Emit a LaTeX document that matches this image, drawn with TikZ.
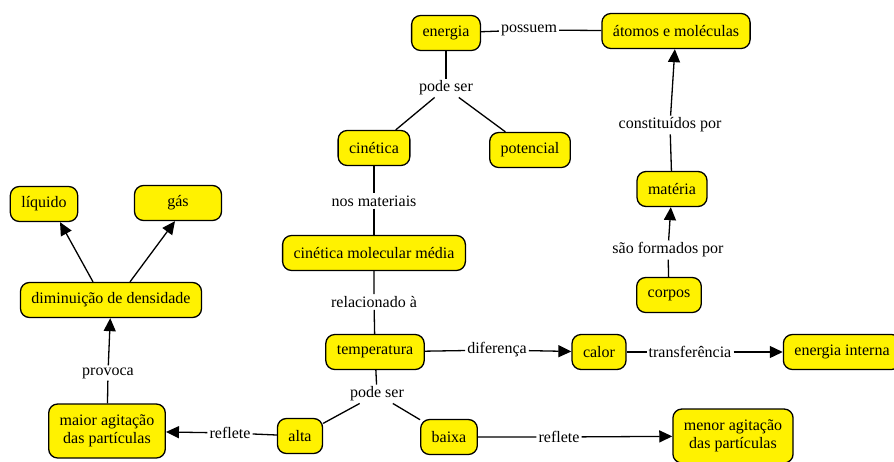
\documentclass[tikz,border=0pt]{standalone}
\usepackage{fontspec}
\setmainfont{Liberation Serif}
\usetikzlibrary{arrows.meta}

\tikzset{
  concept/.style={draw, line width=1.3pt, fill=yellow, rounded corners=9pt,
    inner xsep=11pt, minimum height=35pt, align=center,
    font=\fontsize{16}{18}\selectfont},
  twoline/.style={minimum height=54pt},
  linkword/.style={inner sep=2pt, font=\fontsize{16}{18}\selectfont},
  link/.style={line width=1.3pt},
  linkarrow/.style={link, -{Triangle[length=13pt,width=12pt]}}
}

\begin{document}
\begin{tikzpicture}[x=1pt,y=-1pt]
  \useasboundingbox (0,0) rectangle (894,461);
  % concepts
  \foreach \n/\x/\y/\t in {energia/446/33/energia, atomos/676/31/átomos e moléculas,
      cinetica/374/148/cinética, potencial/530/150/potencial,
      materia/672/189/matéria, corpos/669/295/corpos,
      cmm/374/253/cinética molecular média, temperatura/375/352/temperatura,
      calor/599/352/calor, energiaint/842/352/energia interna,
      alta/300/436/alta, baixa/449/437/baixa,
      liquido/44/204/líquido, dimin/111/300/diminuição de densidade}{
    \node[concept] (\n) at (\x,\y) {\t};
  }
  \node[concept, minimum width=87pt] (gas) at (178,203) {gás};
  \node[concept, twoline] (maior) at (107,431) {maior agitação\\das partículas};
  \node[concept, twoline] (menor) at (733,436) {menor agitação\\das partículas};

  % linking words
  \foreach \n/\x/\y/\t in {possuem/529/30/possuem, podeserA/446/88/pode ser,
      constit/670/125/constituídos por, formados/668/250/são formados por,
      nosmat/374/201/nos materiais, relac/374/302/relacionado à,
      difer/497/350/diferença, transf/690/352/transferência,
      podeserB/377/394/pode ser, refleteA/230/433/reflete,
      refleteB/559/437/reflete, provoca/108/373/provoca}{
    \node[linkword] (\n) at (\x,\y) {\t};
  }

  % plain links
  \foreach \a/\b/\c in {energia/possuem/atomos, cinetica/nosmat/cmm,
      cmm/relac/temperatura}{
    \draw[link] (\a) -- (\b) -- (\c);
  }
  \foreach \a/\b in {energia/podeserA, podeserA/cinetica, podeserA/potencial,
      temperatura/podeserB, podeserB/alta, podeserB/baixa}{
    \draw[link] (\a) -- (\b);
  }

  % links with arrows
  \foreach \a/\b/\c in {materia/constit/atomos, corpos/formados/materia,
      temperatura/difer/calor, calor/transf/energiaint,
      alta/refleteA/maior, baixa/refleteB/menor, maior/provoca/dimin}{
    \draw[linkarrow] (\a) -- (\b) -- (\c);
  }
  \draw[linkarrow] ([xshift=-18pt]dimin.north) -- ([xshift=16pt]liquido.south);
  \draw[linkarrow] ([xshift=19pt]dimin.north) -- ([xshift=-3pt]gas.south);
\end{tikzpicture}
\end{document}
